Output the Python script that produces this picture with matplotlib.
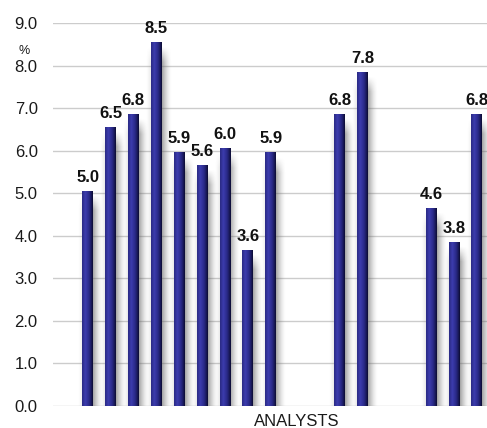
import numpy as np
import matplotlib
matplotlib.use("Agg")
import matplotlib.pyplot as plt
from matplotlib.colors import to_rgb

plt.rcParams['font.family'] = ['Liberation Sans', 'DejaVu Sans']

# Slot positions of the analysts' forecasts (empty slots have no bar)
slots = [0, 1, 2, 3, 4, 5, 6, 7, 8, 11, 12, 15, 16, 17]
values = [5.0, 6.5, 6.8, 8.5, 5.9, 5.6, 6.0, 3.6, 5.9, 6.8, 7.8, 4.6, 3.8, 6.8]
labels = ["5.0", "6.5", "6.8", "8.5", "5.9", "5.6", "6.0", "3.6", "5.9", "6.8", "7.8", "4.6", "3.8", "6.8"]
yticks = [0, 1, 2, 3, 4, 5, 6, 7, 8, 9]
ytick_labels = ["0.0", "1.0", "2.0", "3.0", "4.0", "5.0", "6.0", "7.0", "8.0", "9.0"]

W, H = 487, 428
fig = plt.figure(figsize=(W / 100, H / 100), dpi=100)
ax = fig.add_axes([53 / W, 22 / H, 1 - 53 / W, (406 - 23.3) / H])

for s in ax.spines.values():
    s.set_visible(False)
ax.set_xticks([])
ax.set_yticks(yticks)
ax.set_yticklabels(ytick_labels, fontsize=12, color='#1a1a1a')
ax.tick_params(axis='y', length=0, pad=11)
ax.yaxis.grid(True, color='#cccccc', linewidth=1.0)
ax.set_axisbelow(True)

bar_w = 0.48

# Cylinder-like horizontal shading of each bar
stops = [0.0, 0.3, 0.65, 0.85, 1.0]
cols = ['#2a2a84', '#3c3cae', '#2a2a88', '#1a1a5c', '#0c0c32']
xs = np.linspace(0, 1, 40)
rgb = np.array([to_rgb(c) for c in cols])
grad = np.stack([np.interp(xs, stops, rgb[:, k]) for k in range(3)], axis=-1)[None, :, :]


def shadow_img(height, side):
    """Grey drop shadow fading sideways and towards the top."""
    ny = 200
    yy = np.linspace(height, 0, ny)[:, None]          # row 0 is the top
    sx = np.linspace(0, 1, 30)[None, :]
    top_fade = np.clip((height - 0.05 - yy) / 0.35, 0, 1)
    img = np.zeros((ny, 30, 4))
    if side == 'right':
        img[..., :3] = 0.35
        img[..., 3] = 0.55 * (1 - sx) ** 1.6 * top_fade
    else:
        img[..., :3] = 0.5
        img[..., 3] = 0.18 * sx ** 1.5 * top_fade
    return img


for x, v, lab in zip(slots, values, labels):
    x0, x1 = x - bar_w / 2, x + bar_w / 2
    ax.imshow(shadow_img(v, 'right'), extent=[x1, x1 + 0.42, 0, v], aspect='auto',
              interpolation='bilinear', zorder=2)
    ax.imshow(shadow_img(v, 'left'), extent=[x0 - 0.2, x0, 0, v], aspect='auto',
              interpolation='bilinear', zorder=2)
    ax.imshow(grad, extent=[x0, x1, 0, v + 0.05], aspect='auto',
              interpolation='bilinear', zorder=3)
    ax.annotate(lab, (x, v), xytext=(0, 8.5), textcoords='offset points',
                ha='center', va='baseline', fontsize=12, fontweight='bold',
                color='#111111', zorder=5)

ax.set_xlim(-1.51, 17.44)
ax.set_ylim(0, 9)

fig.text(24 / W, 1 - 51 / H, '%', fontsize=9, ha='center', va='center', color='#1a1a1a')
fig.text(297 / W, 1 - 421 / H, 'ANALYSTS', fontsize=12, ha='center', va='center', color='#1a1a1a')

fig.savefig('out.png', dpi=100)
